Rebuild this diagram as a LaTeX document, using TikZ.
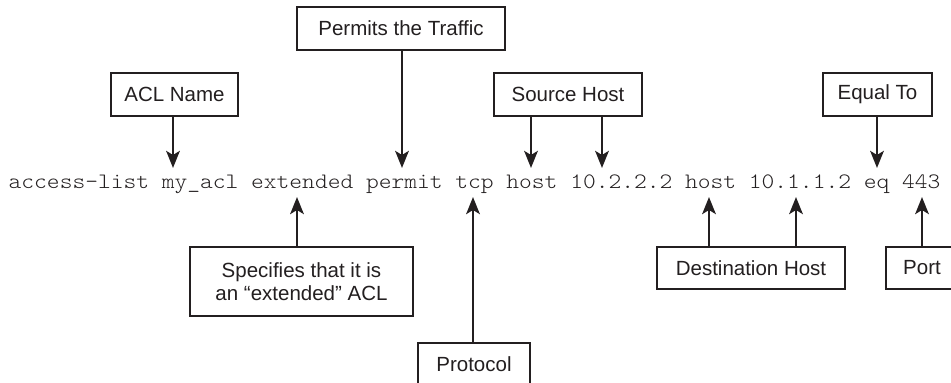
\documentclass[tikz,border=0pt]{standalone}
\usepackage{fontspec}
\setmainfont{Liberation Sans}
\newfontfamily\cmdfont{Latin Modern Mono Light}[FakeStretch=1.105]
\usetikzlibrary{arrows.meta}
\definecolor{ink}{HTML}{231F20}
\begin{document}
\begin{tikzpicture}[x=1pt,y=-1pt,
  lbl/.style={draw=ink,line width=1.2pt,fill=white,inner sep=0pt,text=ink,
     font=\fontsize{20.5}{23}\selectfont,align=center},
  arr/.style={draw=ink,line width=2.9pt,-{Stealth[length=17pt,width=13.5pt,inset=4pt]}}]
\useasboundingbox (0,0) rectangle (951,383);
% command line
\node[anchor=base west,inner sep=0pt,text=ink,font=\cmdfont\fontsize{22}{26}\selectfont] (cmd) at (8.5,188)
  {access-list my\_acl extended permit tcp host 10.2.2.2 host 10.1.1.2 eq 443};
% label boxes
\node[lbl,minimum width=208pt,minimum height=43pt] (perm) at (401,28.5) {Permits the Traffic};
\node[lbl,minimum width=127pt,minimum height=43pt] (aclname) at (174.5,94.5) {ACL Name};
\node[lbl,minimum width=148pt,minimum height=43pt] (src) at (568,94.5) {Source Host};
\node[lbl,minimum width=109pt,minimum height=43pt] (eqto) at (877.5,94.5) {Equal To};
\node[lbl,minimum width=223pt,minimum height=69pt] (spec) at (301.5,281.5) {Specifies that it is\\an “extended” ACL};
\node[lbl,minimum width=112pt,minimum height=43pt] (proto) at (474,364.5) {Protocol};
\node[lbl,minimum width=188pt,minimum height=42pt] (dest) at (751,268) {Destination Host};
\node[lbl,minimum width=72pt,minimum height=42pt] (port) at (922,268) {Port};
% arrow tips on the command line
\coordinate (tAcl) at (173,168);
\coordinate (tPerm) at (402,168);
\coordinate (tSrcA) at (531,168);
\coordinate (tSrcB) at (602,168);
\coordinate (tEq) at (877,168);
\coordinate (tExt) at (297,197);
\coordinate (tTcp) at (473,197);
\coordinate (tDstA) at (709,197);
\coordinate (tDstB) at (796,197);
\coordinate (tPort) at (922,197);
% arrows
\draw[arr] (aclname.south -| tAcl) -- (tAcl);
\draw[arr] (perm.south -| tPerm) -- (tPerm);
\draw[arr] (src.south -| tSrcA) -- (tSrcA);
\draw[arr] (src.south -| tSrcB) -- (tSrcB);
\draw[arr] (eqto.south -| tEq) -- (tEq);
\draw[arr] (spec.north -| tExt) -- (tExt);
\draw[arr] (proto.north -| tTcp) -- (tTcp);
\draw[arr] (dest.north -| tDstA) -- (tDstA);
\draw[arr] (dest.north -| tDstB) -- (tDstB);
\draw[arr] (port.north -| tPort) -- (tPort);
\end{tikzpicture}
\end{document}
